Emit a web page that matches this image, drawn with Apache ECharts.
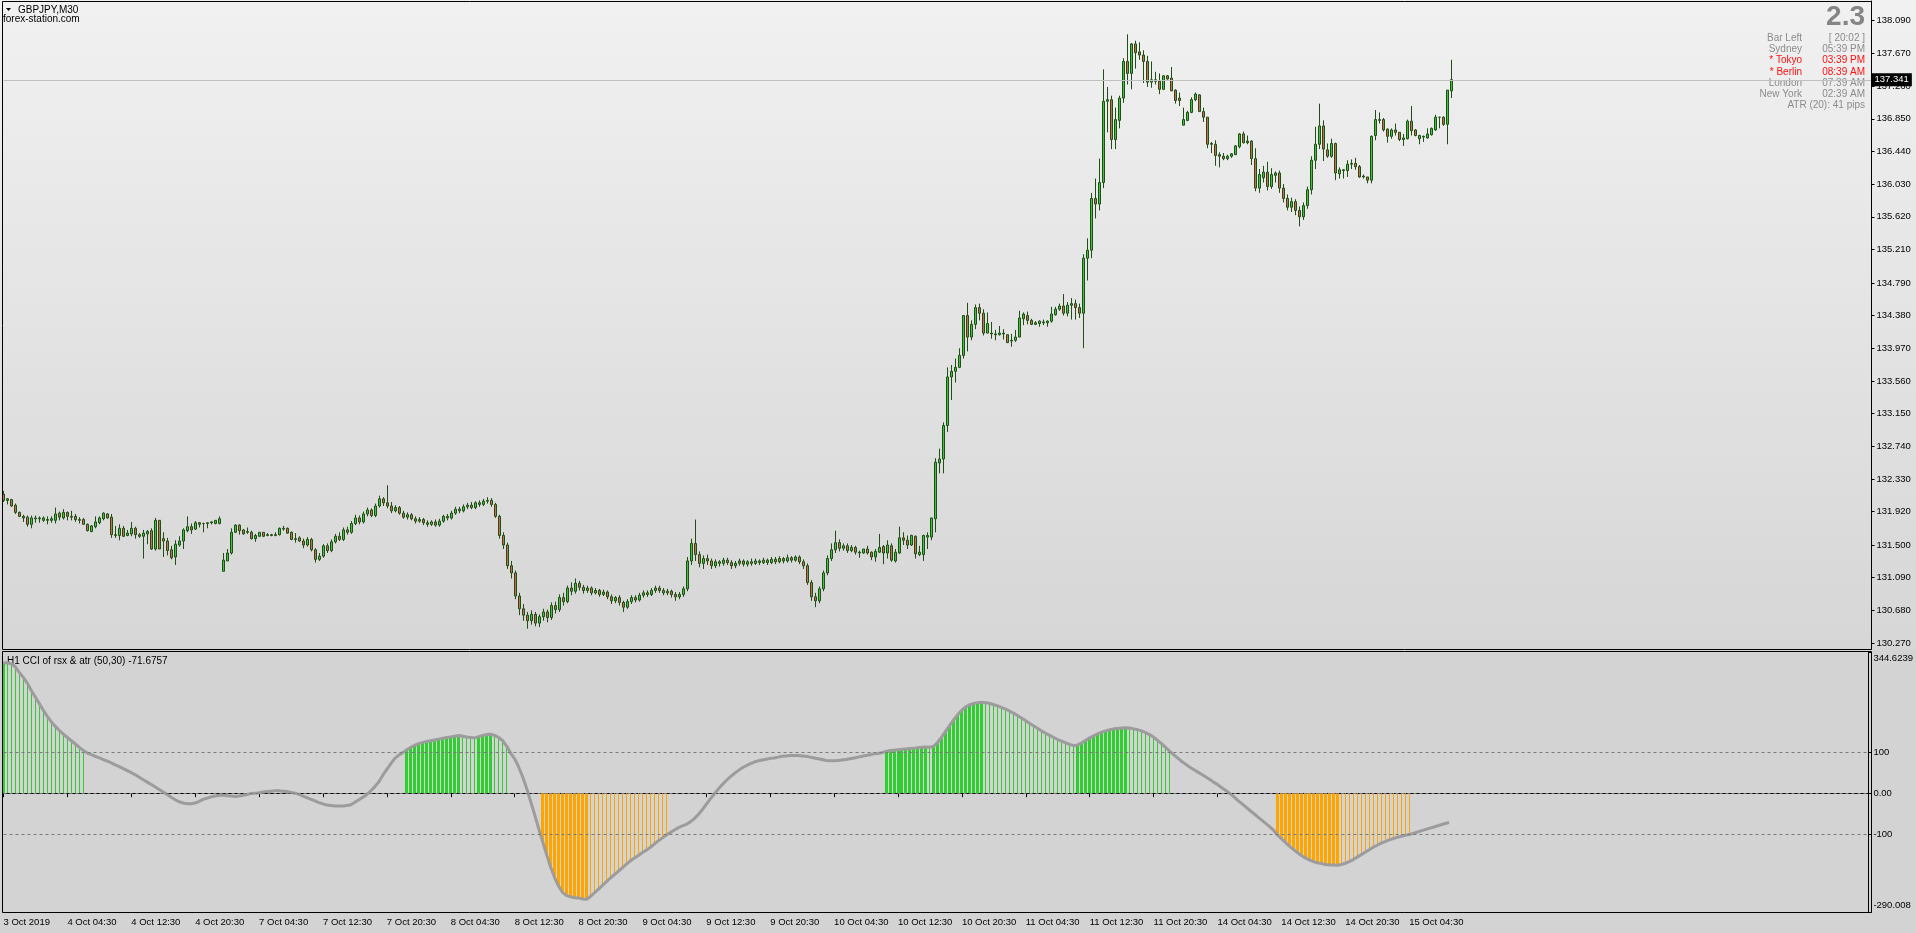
<!DOCTYPE html>
<html>
<head>
<meta charset="utf-8">
<title>GBPJPY,M30</title>
<script src="https://cdn.jsdelivr.net/npm/echarts@6/dist/echarts.min.js"></script>
<style>
  html, body { margin: 0; padding: 0; background: #d3d3d3; }
  #chart { width: 1916px; height: 933px; }
</style>
</head>
<body>
<div id="chart"></div>
<script>
// right price scale of the main window
var priceTicks = [130.270, 130.680, 131.090, 131.500, 131.920, 132.330, 132.740, 133.150, 133.560, 133.970,
  134.380, 134.790, 135.210, 135.620, 136.030, 136.440, 136.850, 137.260, 137.670, 138.090];
// time scale, one label every 16 bars (8 hours of M30)
var timeLabels = ['3 Oct 2019', '4 Oct 04:30', '4 Oct 12:30', '4 Oct 20:30', '7 Oct 04:30', '7 Oct 12:30',
  '7 Oct 20:30', '8 Oct 04:30', '8 Oct 12:30', '8 Oct 20:30', '9 Oct 04:30', '9 Oct 12:30', '9 Oct 20:30',
  '10 Oct 04:30', '10 Oct 12:30', '10 Oct 20:30', '11 Oct 04:30', '11 Oct 12:30', '11 Oct 20:30',
  '14 Oct 04:30', '14 Oct 12:30', '14 Oct 20:30', '15 Oct 04:30'];
var cciTicks = [-290.008, -100, 0, 100, 344.6239];
var cciLevels = [100, 0, -100];
var bidPrice = 137.341;

// GBPJPY M30 candles: [open, close, low, high]
var candles = [
  [132.14,132.06,132.04,132.18],[132.06,132.08,132.01,132.09],[132.07,131.99,131.98,132.08],[132.00,131.91,131.89,132.02],
  [131.91,131.86,131.85,131.92],[131.86,131.84,131.79,131.88],[131.85,131.76,131.73,131.87],[131.76,131.84,131.71,131.87],
  [131.83,131.84,131.78,131.87],[131.84,131.83,131.78,131.86],[131.81,131.84,131.79,131.86],[131.82,131.81,131.76,131.86],
  [131.81,131.83,131.78,131.86],[131.81,131.89,131.77,131.97],[131.90,131.85,131.81,131.92],[131.84,131.91,131.82,131.95],
  [131.91,131.86,131.81,131.92],[131.86,131.85,131.81,131.93],[131.86,131.82,131.79,131.89],[131.82,131.81,131.77,131.85],
  [131.82,131.76,131.76,131.84],[131.76,131.68,131.67,131.77],[131.67,131.74,131.66,131.75],[131.73,131.79,131.71,131.86],
  [131.78,131.84,131.76,131.86],[131.83,131.90,131.81,131.91],[131.89,131.84,131.83,131.90],[131.85,131.63,131.59,131.89],
  [131.63,131.62,131.59,131.74],[131.62,131.71,131.56,131.76],[131.71,131.61,131.60,131.74],[131.62,131.65,131.61,131.69],
  [131.64,131.71,131.61,131.79],[131.71,131.63,131.58,131.73],[131.63,131.61,131.59,131.65],[131.61,131.65,131.33,131.69],
  [131.64,131.67,131.51,131.69],[131.68,131.45,131.44,131.71],[131.45,131.81,131.43,131.84],[131.81,131.45,131.45,131.81],
  [131.58,131.55,131.35,131.66],[131.55,131.43,131.37,131.59],[131.44,131.34,131.32,131.49],[131.35,131.51,131.25,131.56],
  [131.50,131.55,131.48,131.61],[131.55,131.69,131.45,131.71],[131.68,131.73,131.66,131.86],[131.73,131.69,131.64,131.77],
  [131.70,131.78,131.69,131.80],[131.78,131.76,131.72,131.79],[131.77,131.77,131.66,131.78],[131.77,131.78,131.71,131.78],
  [131.78,131.79,131.76,131.80],[131.77,131.81,131.76,131.81],[131.77,131.83,131.76,131.86],
  // 7 Oct
  [131.17,131.31,131.17,131.40],[131.30,131.40,131.30,131.45],[131.40,131.66,131.38,131.71],[131.66,131.75,131.65,131.76],
  [131.75,131.68,131.63,131.76],[131.69,131.64,131.63,131.70],[131.66,131.67,131.64,131.72],[131.66,131.58,131.57,131.68],
  [131.58,131.62,131.54,131.64],[131.61,131.66,131.60,131.66],[131.66,131.61,131.60,131.66],[131.62,131.63,131.61,131.65],
  [131.63,131.62,131.61,131.64],[131.62,131.63,131.61,131.66],[131.63,131.71,131.62,131.72],[131.71,131.70,131.68,131.74],
  [131.71,131.65,131.64,131.72],[131.66,131.57,131.56,131.67],[131.58,131.57,131.53,131.65],[131.59,131.55,131.54,131.61],
  [131.55,131.50,131.46,131.58],[131.50,131.57,131.48,131.60],[131.57,131.44,131.42,131.59],[131.44,131.32,131.28,131.46],
  [131.32,131.36,131.30,131.40],[131.36,131.49,131.34,131.51],[131.49,131.43,131.40,131.52],[131.43,131.54,131.41,131.57],
  [131.54,131.61,131.52,131.64],[131.61,131.57,131.55,131.66],[131.57,131.69,131.55,131.72],[131.69,131.66,131.63,131.73],
  [131.66,131.77,131.64,131.80],[131.77,131.84,131.75,131.88],[131.84,131.79,131.76,131.87],[131.79,131.89,131.77,131.92],
  [131.89,131.94,131.86,131.97],[131.94,131.87,131.85,131.96],[131.87,131.99,131.85,132.02],[131.99,132.08,131.97,132.12],
  [132.08,132.03,131.99,132.10],[132.03,131.99,131.96,132.25],[131.99,131.93,131.90,132.04],[131.93,131.97,131.91,132.00],
  [131.97,131.90,131.88,131.99],[131.90,131.85,131.83,131.93],[131.85,131.88,131.82,131.91],[131.88,131.83,131.81,131.90],
  [131.83,131.80,131.77,131.86],[131.80,131.82,131.78,131.85],[131.82,131.78,131.75,131.84],[131.78,131.76,131.73,131.81],
  [131.76,131.79,131.74,131.81],[131.79,131.75,131.73,131.82],[131.75,131.80,131.73,131.83],[131.80,131.86,131.78,131.88],
  [131.86,131.84,131.81,131.89],[131.84,131.90,131.82,131.93],[131.90,131.95,131.88,131.98],[131.95,131.93,131.90,131.98],
  [131.93,131.98,131.91,132.01],[131.98,132.00,131.95,132.03],[132.00,131.97,131.95,132.04],[131.97,132.03,131.95,132.05],
  [132.03,132.01,131.98,132.06],[132.01,132.05,131.99,132.08],[132.05,132.06,132.02,132.10],[132.06,132.01,131.98,132.09],
  [132.01,131.86,131.84,132.03],[131.86,131.62,131.58,131.88],[131.62,131.50,131.45,131.66],[131.50,131.24,131.20,131.53],
  [131.24,131.15,131.08,131.30],[131.15,130.86,130.82,131.18],[130.86,130.70,130.62,130.90],[130.70,130.62,130.55,130.76],
  [130.62,130.55,130.45,130.66],[130.55,130.63,130.50,130.68],[130.63,130.52,130.48,130.66],[130.52,130.60,130.47,130.63],
  [130.60,130.66,130.55,130.70],[130.66,130.59,130.53,130.69],[130.59,130.74,130.56,130.78],[130.74,130.69,130.64,130.79],
  [130.69,130.84,130.66,130.88],[130.84,130.79,130.74,130.90],[130.79,130.96,130.77,130.99],[130.96,130.92,130.87,131.03],
  [130.92,131.02,130.89,131.08],[131.02,130.97,130.93,131.05],[130.97,130.93,130.89,131.00],[130.93,130.96,130.90,130.99],
  [130.96,130.90,130.87,130.98],[130.90,130.93,130.88,130.96],[130.93,130.88,130.85,130.95],[130.88,130.91,130.86,130.94],
  [130.91,130.85,130.82,130.93],[130.85,130.80,130.76,130.88],[130.80,130.84,130.77,130.86],[130.84,130.78,130.74,130.87],
  [130.78,130.72,130.66,130.80],[130.72,130.79,130.70,130.82],[130.79,130.84,130.76,130.87],[130.84,130.81,130.78,130.87],
  [130.81,130.87,130.79,130.90],[130.87,130.90,130.84,130.93],[130.90,130.88,130.85,130.93],[130.88,130.93,130.86,130.96],
  [130.93,130.96,130.90,130.99],[130.96,130.93,130.90,130.99],[130.93,130.90,130.87,130.96],[130.90,130.92,130.87,130.95],
  [130.92,130.88,130.84,130.94],[130.88,130.85,130.80,130.91],[130.85,130.88,130.82,130.91],[130.88,130.95,130.85,130.98],
  [130.95,131.30,130.92,131.35],[131.30,131.52,131.25,131.58],[131.52,131.38,131.30,131.82],[131.38,131.27,131.22,131.42],
  [131.27,131.33,131.20,131.37],[131.33,131.30,131.25,131.38],[131.30,131.24,131.20,131.33],[131.24,131.29,131.21,131.32],
  [131.29,131.27,131.23,131.31],[131.27,131.31,131.24,131.34],[131.31,131.28,131.25,131.34],[131.28,131.24,131.20,131.31],
  [131.24,131.27,131.21,131.30],[131.27,131.30,131.24,131.33],[131.30,131.26,131.23,131.32],[131.26,131.29,131.23,131.31],
  [131.29,131.27,131.24,131.33],[131.27,131.30,131.25,131.33],[131.30,131.28,131.25,131.32],[131.28,131.31,131.26,131.34],
  [131.31,131.28,131.25,131.33],[131.28,131.32,131.26,131.35],[131.32,131.29,131.26,131.35],[131.29,131.33,131.27,131.36],
  [131.33,131.30,131.27,131.35],[131.30,131.34,131.28,131.38],[131.34,131.31,131.28,131.36],[131.31,131.35,131.29,131.37],
  [131.35,131.29,131.26,131.37],[131.29,131.24,131.20,131.32],[131.24,131.03,131.00,131.27],[131.03,130.85,130.80,131.06],
  [130.85,130.80,130.72,130.90],[130.80,130.95,130.77,130.98],[130.95,131.15,130.92,131.18],[131.15,131.33,131.12,131.37],
  [131.33,131.44,131.30,131.52],[131.44,131.53,131.40,131.68],[131.53,131.46,131.42,131.57],[131.46,131.49,131.43,131.52],
  [131.49,131.43,131.40,131.52],[131.43,131.47,131.41,131.50],[131.47,131.41,131.38,131.49],[131.41,131.40,131.34,131.43],
  [131.40,131.45,131.39,131.45],[131.45,131.40,131.38,131.49],[131.41,131.35,131.31,131.42],[131.35,131.42,131.29,131.45],
  [131.41,131.47,131.40,131.64],[131.48,131.40,131.26,131.50],[131.40,131.50,131.33,131.56],[131.49,131.31,131.29,131.52],
  [131.30,131.41,131.28,131.45],[131.40,131.59,131.39,131.73],[131.59,131.56,131.50,131.66],[131.56,131.50,131.45,131.62],
  [131.50,131.62,131.49,131.63],[131.61,131.39,131.33,131.62],[131.38,131.41,131.36,131.49],[131.38,131.62,131.30,131.63],
  [131.60,131.62,131.45,131.66],[131.60,131.84,131.56,131.84],[131.83,132.54,131.66,132.59],[132.53,132.58,132.40,132.71],
  [132.58,133.00,132.40,133.04],[133.00,133.61,132.92,133.73],[133.61,133.68,133.32,133.76],[133.68,133.73,133.54,133.84],
  [133.73,133.88,133.72,133.97],[133.88,134.38,133.84,134.38],[134.38,134.11,133.93,134.54],[134.11,134.27,134.07,134.32],
  [134.27,134.48,134.21,134.52],[134.48,134.41,134.32,134.53],[134.41,134.16,134.13,134.46],[134.16,134.28,134.16,134.42],
  [134.16,134.15,134.09,134.30],[134.15,134.14,134.07,134.20],[134.14,134.16,134.13,134.25],[134.15,134.16,134.08,134.21],
  [134.14,134.04,134.04,134.14],[134.06,134.07,133.99,134.15],[134.07,134.11,134.05,134.20],[134.11,134.35,134.11,134.44],
  [134.34,134.40,134.26,134.42],[134.38,134.32,134.27,134.43],[134.32,134.27,134.26,134.34],[134.27,134.29,134.26,134.31],
  [134.28,134.31,134.24,134.32],[134.29,134.30,134.26,134.33],[134.29,134.31,134.24,134.32],[134.31,134.40,134.29,134.49],
  [134.39,134.46,134.38,134.49],[134.46,134.50,134.44,134.53],[134.50,134.41,134.38,134.65],[134.41,134.51,134.37,134.55],
  [134.51,134.53,134.33,134.60],[134.53,134.48,134.33,134.58],[134.48,134.41,134.35,134.53],[134.41,135.10,133.97,135.15],
  [135.10,135.20,134.82,135.35],[135.20,135.85,135.10,135.92],[135.85,135.78,135.60,136.10],[135.78,136.05,135.70,136.35],
  [136.05,137.07,135.98,137.47],[137.07,137.09,136.68,137.25],[137.09,136.59,136.47,137.14],[136.59,136.84,136.47,136.99],
  [136.83,137.11,136.73,137.14],[137.11,137.57,137.05,137.61],[137.57,137.42,137.28,137.91],[137.42,137.79,137.22,137.80],
  [137.79,137.68,137.48,137.83],[137.69,137.65,137.59,137.81],[137.65,137.57,137.30,137.71],[137.57,137.31,137.25,137.64],
  [137.31,137.34,137.24,137.57],[137.34,137.32,137.28,137.44],[137.32,137.22,137.16,137.42],[137.22,137.39,137.21,137.40],
  [137.39,137.35,137.34,137.40],[137.36,137.20,137.20,137.50],[137.21,137.08,137.04,137.22],[137.11,137.08,137.01,137.18],
  [136.77,136.84,136.77,136.99],[136.83,136.93,136.82,136.95],[136.93,137.09,136.92,137.12],[137.09,137.16,137.07,137.18],
  [137.15,136.94,136.94,137.16],[136.94,136.87,136.81,136.99],[136.87,136.53,136.48,136.87],[136.54,136.53,136.42,136.56],
  [136.53,136.39,136.26,136.58],[136.40,136.38,136.24,136.43],[136.38,136.35,136.33,136.42],[136.35,136.38,136.33,136.40],
  [136.38,136.41,136.36,136.42],[136.40,136.51,136.40,136.52],[136.50,136.66,136.48,136.67],[136.66,136.55,136.54,136.69],
  [136.55,136.57,136.53,136.64],[136.57,136.35,136.27,136.58],[136.35,135.98,135.94,136.48],[135.98,136.15,135.92,136.22],
  [136.11,136.18,136.05,136.26],[136.18,136.00,135.95,136.31],[136.00,136.15,135.97,136.23],[136.14,136.17,136.05,136.19],
  [136.17,135.98,135.92,136.20],[135.98,135.85,135.80,136.03],[135.85,135.74,135.70,135.90],[135.74,135.81,135.68,135.86],
  [135.81,135.70,135.64,135.84],[135.70,135.62,135.50,135.75],[135.62,135.76,135.58,135.80],[135.76,135.96,135.72,136.00],
  [135.96,136.33,135.90,136.38],[136.33,136.53,136.22,136.75],[136.53,136.76,136.47,137.04],[136.76,136.47,136.32,136.83],
  [136.46,136.38,136.36,136.54],[136.38,136.54,136.36,136.60],[136.54,136.17,136.08,136.55],[136.16,136.21,136.10,136.24],
  [136.21,136.20,136.10,136.22],[136.20,136.28,136.12,136.33],[136.28,136.29,136.22,136.34],[136.29,136.25,136.21,136.36],
  [136.25,136.12,136.11,136.27],[136.12,136.13,136.10,136.15],[136.12,136.08,136.04,136.12],[136.08,136.63,136.04,136.64],
  [136.64,136.84,136.58,136.96],[136.83,136.84,136.79,136.93],[136.84,136.71,136.69,136.86],[136.72,136.63,136.55,136.73],
  [136.63,136.71,136.60,136.73],[136.71,136.68,136.64,136.79],[136.68,136.59,136.57,136.68],[136.59,136.61,136.51,136.66],
  [136.60,136.82,136.59,136.84],[136.82,136.70,136.64,137.01],[136.71,136.64,136.63,136.72],[136.60,136.64,136.53,136.65],
  [136.62,136.63,136.56,136.64],[136.61,136.66,136.60,136.73],[136.65,136.73,136.64,136.74],[136.71,136.87,136.70,136.90],
  [136.87,136.87,136.73,136.87],[136.87,136.78,136.76,136.88],[136.78,137.21,136.53,137.21],[137.20,137.341,137.11,137.59]
];

// H1 CCI of rsx & atr (50,30), one value per M30 bar
var cci = [
  319, 318, 316, 308, 294, 282, 268, 250, 234, 218, 202, 187, 174, 163, 153, 144, 136, 128, 120, 112,
  104, 98, 94, 90, 86, 82, 78, 74, 69, 65, 60, 55, 50, 45, 39, 33, 27, 21, 15, 9,
  3, -3, -10, -16, -21, -24, -26, -26, -24, -20, -15, -12, -9, -7, -5, -5, -6, -7, -8, -7,
  -5, -3, -1, 0, 1, 3, 4, 5, 6, 6, 5, 4, 2, 0, -3, -7, -11, -15, -19, -23,
  -26, -29, -30, -31, -31, -31, -30, -28, -22, -16, -10, -3, 6, 16, 28, 44, 58, 72, 85, 93,
  99, 106, 112, 117, 121, 124, 126, 128, 130, 132, 134, 136, 137, 139, 141, 139, 137, 136, 135, 138,
  141, 143, 144, 141, 136, 128, 115, 98, 84, 64, 40, 12, -20, -52, -86, -118, -150, -180, -206, -227,
  -242, -250, -253, -255, -256, -258, -259, -252, -243, -234, -225, -216, -207, -199, -190, -182, -173, -165, -158, -152,
  -145, -139, -132, -124, -116, -109, -102, -96, -90, -84, -80, -76, -70, -62, -52, -40, -27, -14, -2, 10,
  21, 31, 40, 48, 55, 62, 67, 72, 76, 79, 81, 83, 85, 86, 88, 90, 91, 92, 92, 92,
  91, 90, 88, 86, 84, 82, 80, 79, 79, 80, 81, 82, 84, 86, 88, 90, 92, 94, 96, 97,
  99, 102, 104, 105, 106, 107, 108, 109, 110, 111, 112, 112.5, 112, 115, 125, 138, 152, 166, 180, 192,
  203, 211, 216, 219, 221, 222, 221, 219, 216, 213, 209, 205, 200, 195, 189, 183, 177, 170, 164, 158,
  152, 146, 141, 136, 131, 127, 123, 119, 116, 118, 123, 129, 135, 140, 145, 149, 152, 155, 157, 158,
  159, 159.5, 159, 157, 155, 152, 148, 143, 137, 129, 121, 112, 103, 94, 86, 78, 71, 64, 58, 52,
  46, 40, 34, 27, 21, 14, 7, 0, -8, -17, -25, -33, -41, -49, -57, -65, -73, -81, -90, -102,
  -111, -120, -129, -137, -145, -152, -158, -163, -167, -170, -172, -174, -175, -175.5, -176, -174, -171, -167, -162, -156,
  -150, -144, -138, -132, -127, -122, -118, -114, -111, -108, -105, -103, -101, -98, -95, -92, -89, -86, -83, -80,
  -77, -74, -71.6757
];

var FONT = '"Liberation Sans", Arial, sans-serif';
var slots = 468;
var cats = [];
for (var i = 0; i < slots; i++) cats.push(String(i));

// thick stroke while the oscillator moves away from zero, thin while it returns
var histData = cci.map(function (v, i) {
  var grow = i === 0 || Math.abs(v) > Math.abs(cci[i - 1]);
  return [i, v, grow ? 1 : 0];
});

function isTimeTick(index) {
  return index % 16 === 0 && index / 16 < timeLabels.length;
}

var chart = echarts.init(document.getElementById('chart'));

var infoRows = [
  ['Bar Left', '[ 20:02 ]', '#8c8c8c'],
  ['Sydney', '05:39 PM', '#8c8c8c'],
  ['* Tokyo', '03:39 PM', '#ff1010'],
  ['* Berlin', '08:39 AM', '#ff1010'],
  ['London', '07:39 AM', '#8c8c8c'],
  ['New York', '02:39 AM', '#8c8c8c']
];
var graphics = [
  { type: 'rect', silent: true, z: 10, shape: { x: 2.5, y: 1.5, width: 1869, height: 648 },
    style: { fill: null, stroke: '#000', lineWidth: 1 } },
  { type: 'rect', silent: true, z: 10, shape: { x: 2.5, y: 651.5, width: 1869, height: 261 },
    style: { fill: null, stroke: '#000', lineWidth: 1 } },
  { type: 'polygon', silent: true, shape: { points: [[6, 8], [11, 8], [8.5, 11]] }, style: { fill: '#000' } },
  { type: 'text', silent: true, x: 18, y: 10, style: { text: 'GBPJPY,M30', font: '10px ' + FONT, fill: '#000', align: 'left', verticalAlign: 'middle' } },
  { type: 'text', silent: true, x: 3, y: 19, style: { text: 'forex-station.com', font: '10px ' + FONT, fill: '#000', align: 'left', verticalAlign: 'middle' } },
  { type: 'text', silent: true, x: 7, y: 661, style: { text: 'H1 CCI of rsx & atr (50,30) -71.6757', font: '10px ' + FONT, fill: '#000', align: 'left', verticalAlign: 'middle' } },
  { type: 'text', silent: true, x: 1865, y: 17, style: { text: '2.3', font: 'bold 28px ' + FONT, fill: '#858585', align: 'right', verticalAlign: 'middle' } },
  { type: 'text', silent: true, x: 1865, y: 105, style: { text: 'ATR (20): 41 pips', font: '10px ' + FONT, fill: '#8c8c8c', align: 'right', verticalAlign: 'middle' } }
];
infoRows.forEach(function (r, k) {
  var y = 38.5 + k * 11.1;
  graphics.push({ type: 'text', silent: true, x: 1802, y: y, style: { text: r[0], font: '10px ' + FONT, fill: r[2], align: 'right', verticalAlign: 'middle' } });
  graphics.push({ type: 'text', silent: true, x: 1865, y: y, style: { text: r[1], font: '10px ' + FONT, fill: r[2], align: 'right', verticalAlign: 'middle' } });
});

var option = {
  animation: false,
  backgroundColor: new echarts.graphic.LinearGradient(0, 0, 0, 1, [
    { offset: 0, color: '#f1f1f1' },
    { offset: 0.695, color: '#d6d6d6' },
    { offset: 0.698, color: '#d3d3d3' },
    { offset: 1, color: '#d3d3d3' }
  ]),
  textStyle: { fontFamily: FONT },
  graphic: graphics,
  grid: [
    { left: 3.5, right: 44.5, top: 1, height: 648 },
    { left: 3.5, right: 44.5, top: 652, height: 260 }
  ],
  xAxis: [
    { type: 'category', gridIndex: 0, data: cats, boundaryGap: false, show: false },
    {
      type: 'category', gridIndex: 1, data: cats, boundaryGap: false,
      axisLine: { show: true, lineStyle: { color: '#000', width: 1 } },
      axisTick: { show: true, interval: isTimeTick, length: 4, lineStyle: { color: '#000' } },
      axisLabel: {
        interval: isTimeTick, align: 'left', margin: 5, fontSize: 9.5, color: '#000', fontFamily: FONT,
        formatter: function (value, index) { return isTimeTick(index) ? timeLabels[index / 16] : ''; }
      },
      splitLine: { show: false }
    }
  ],
  yAxis: [
    {
      type: 'value', gridIndex: 0, position: 'right', min: 130.195, max: 138.3285,
      axisLine: { show: true, lineStyle: { color: '#000' } },
      axisTick: { show: true, customValues: priceTicks, length: 3, lineStyle: { color: '#000' } },
      axisLabel: {
        customValues: priceTicks, margin: 5, fontSize: 9.5, color: '#000', fontFamily: FONT,
        formatter: function (v) { return v.toFixed(3); }
      },
      splitLine: { show: false }
    },
    {
      type: 'value', gridIndex: 1, position: 'right', min: -290.008, max: 344.6239,
      axisLine: { show: true, lineStyle: { color: '#000' } },
      axisTick: { show: true, customValues: cciTicks, length: 3, lineStyle: { color: '#000' } },
      axisLabel: {
        customValues: cciTicks, margin: 5, fontSize: 9.5, color: '#000', fontFamily: FONT,
        formatter: function (v) {
          if (v > 300) return '{t|344.6239}';
          if (v < -200) return '{b|-290.008}';
          if (v === 0) return '0.00';
          return String(v);
        },
        rich: {
          t: { padding: [13, 0, 0, 0], fontSize: 9.5, color: '#000', fontFamily: FONT },
          b: { padding: [0, 0, 13, 0], fontSize: 9.5, color: '#000', fontFamily: FONT }
        }
      },
      splitLine: { show: false }
    }
  ],
  series: [
    {
      name: 'GBPJPY', type: 'candlestick', xAxisIndex: 0, yAxisIndex: 0,
      data: candles, barWidth: 3, clip: false,
      itemStyle: {
        color: '#3ec43e', color0: '#cf6a4b',
        borderColor: '#1f4f16', borderColor0: '#1f4f16', borderWidth: 1
      },
      markLine: {
        silent: true, symbol: 'none', animation: false,
        lineStyle: { color: '#c0c0c0', type: 'solid', width: 1 },
        label: {
          show: true, position: 'end', distance: 0,
          formatter: bidPrice.toFixed(3),
          backgroundColor: '#000', color: '#fff', padding: [2, 3, 1, 3], fontSize: 9.5, fontFamily: FONT
        },
        data: [{ yAxis: bidPrice }]
      }
    },
    {
      name: 'hist', type: 'custom', xAxisIndex: 1, yAxisIndex: 1,
      data: histData, clip: false,
      renderItem: function (params, api) {
        var v = api.value(1);
        if (Math.abs(v) <= 100) return null;
        var base = api.coord([api.value(0), 0]);
        var tip = api.coord([api.value(0), v]);
        var w = api.value(2) ? 3 : 1;
        var x = Math.floor(base[0]) - (w - 1) / 2;
        return {
          type: 'rect',
          shape: { x: x, y: Math.min(base[1], tip[1]), width: w, height: Math.abs(tip[1] - base[1]) },
          style: { fill: v > 0 ? '#32cd32' : '#ffa500' }
        };
      }
    },
    {
      name: 'CCI', type: 'line', xAxisIndex: 1, yAxisIndex: 1,
      data: cci, showSymbol: false, z: 3,
      lineStyle: { color: '#9c9c9c', width: 3 },
      markLine: {
        silent: true, symbol: 'none', animation: false,
        lineStyle: { color: '#7a7a7a', type: [3, 3], width: 1 },
        label: { show: false },
        data: cciLevels.map(function (l) { return { yAxis: l }; })
      }
    }
  ]
};

chart.setOption(option);
</script>
</body>
</html>
